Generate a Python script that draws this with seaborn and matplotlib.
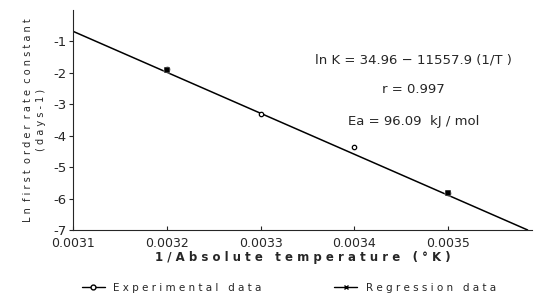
import numpy as np
import pandas as pd
import seaborn as sns
import matplotlib.pyplot as plt
from matplotlib.lines import Line2D

# valores
inv_temp = [0.0032, 0.0033, 0.0034, 0.0035]
ln_k_exp = [-1.88, -3.30, -4.35, -5.82]
reg_x = [0.0031, 0.003585]
reg_y = [-0.68, -7.0]
reg_pts_x = [0.0032, 0.0035]
reg_pts_y = [-1.90, -5.83]
xticks = [0.0031, 0.0032, 0.0033, 0.0034, 0.0035]
xtick_labels = ["0.0031", "0.0032", "0.0033", "0.0034", "0.0035"]
yticks = [-1, -2, -3, -4, -5, -6, -7]
anotacoes = ["ln K = 34.96 \u2212 11557.9 (1/T )", "r = 0.997", "Ea = 96.09  kJ / mol"]
anot_y = [-1.58, -2.53, -3.56]

sns.set_style("ticks")
plt.rcParams["font.family"] = ["DejaVu Sans"]

fig, ax = plt.subplots(figsize=(5.35, 2.96), dpi=100)
fig.subplots_adjust(left=0.137, right=0.995, bottom=0.223, top=0.966)

df_exp = pd.DataFrame({"x": inv_temp, "y": ln_k_exp})
df_reg = pd.DataFrame({"x": reg_x, "y": reg_y})

sns.lineplot(data=df_reg, x="x", y="y", color="black", linewidth=1.1, ax=ax)
sns.scatterplot(data=df_exp, x="x", y="y", marker="o", s=10, facecolor="white",
                edgecolor="black", linewidth=0.9, ax=ax, zorder=3)
sns.scatterplot(x=reg_pts_x, y=reg_pts_y, marker="s", s=18, color="black",
                ax=ax, zorder=4)

ax.set_xlim(0.0031, 0.00359)
ax.set_ylim(-7, 0)
ax.set_xticks(xticks)
ax.set_xticklabels(xtick_labels, fontsize=9)
ax.set_yticks(yticks)
ax.set_yticklabels([str(v) for v in yticks], fontsize=9.5)
ax.tick_params(axis="x", direction="in", length=3, pad=5)
ax.tick_params(axis="y", direction="out", length=3, pad=2)
sns.despine(ax=ax)

ax.set_xlabel("1 / A b s o l u t e   t e m p e r a t u r e   ( \u00b0 K )",
              fontsize=8.5, fontweight="bold", labelpad=1)
ax.set_ylabel("L n  f i r s t  o r d e r  r a t e  c o n s t a n t\n( d a y s - 1 )",
              fontsize=7, labelpad=5, linespacing=1.4)

for txt, yy in zip(anotacoes, anot_y):
    ax.text(0.003463, yy, txt, ha="center", va="center", fontsize=9.5)

handles = [
    Line2D([], [], color="black", linewidth=1, marker="o", markersize=3.5,
           markerfacecolor="white"),
    Line2D([], [], color="black", linewidth=1, marker="x", markersize=3.5),
]
fig.legend(handles, ["E x p e r i m e n t a l   d a t a", "R e g r e s s i o n   d a t a"],
           loc="lower center", ncol=2, frameon=False, fontsize=7.5,
           bbox_to_anchor=(0.54, -0.02), columnspacing=7, handlelength=2.2)

fig.savefig("out.png", dpi=100)
